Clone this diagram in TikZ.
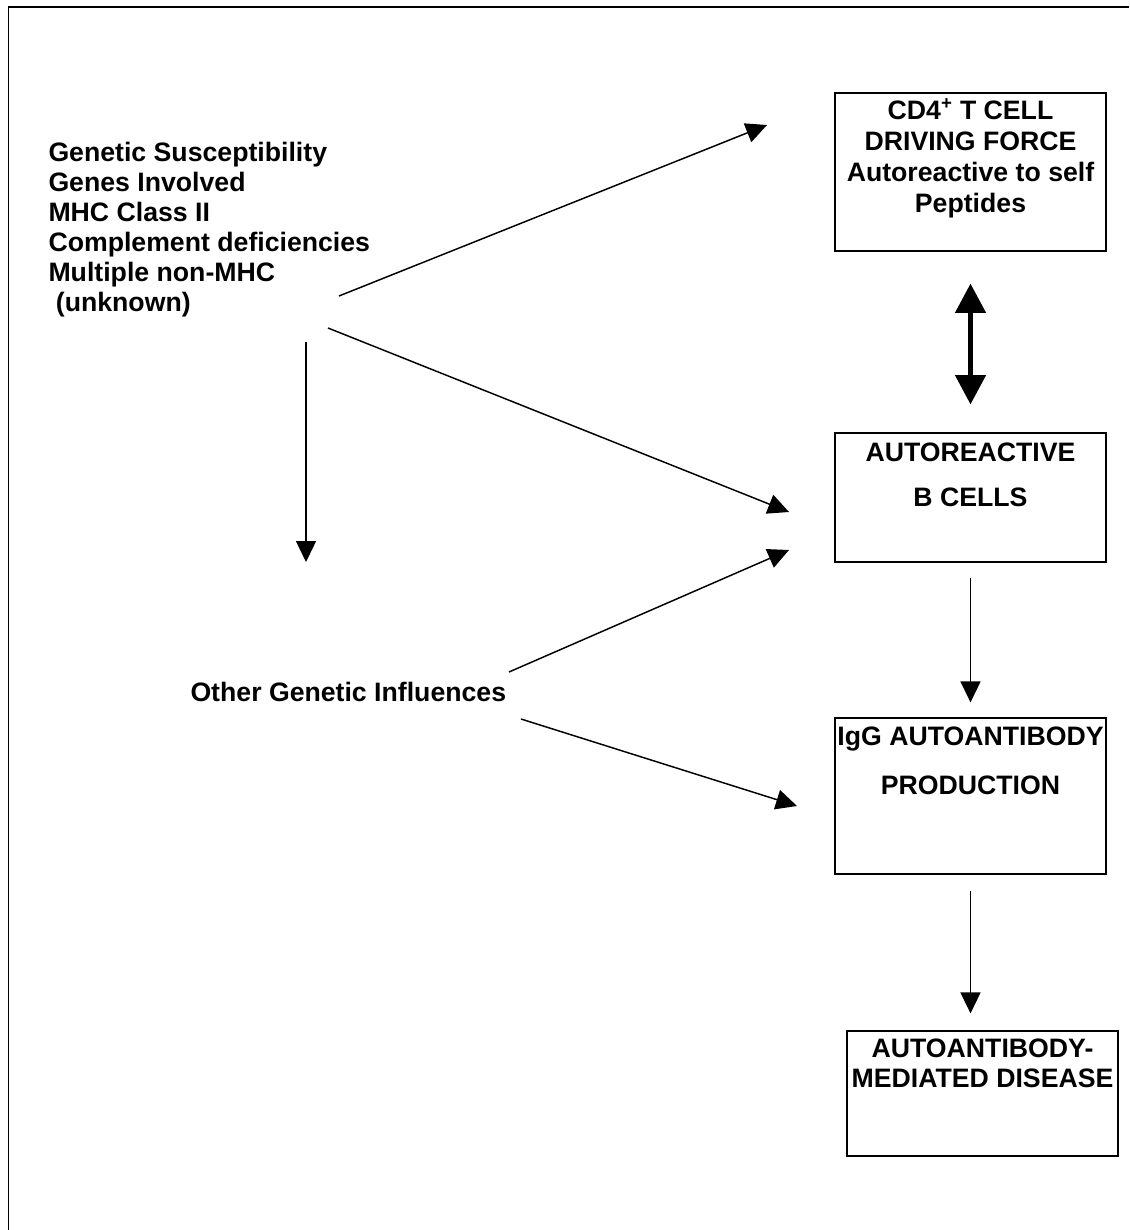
\documentclass[tikz,border=0pt]{standalone}
\usepackage{fontspec}
\setmainfont{Liberation Sans}
\usetikzlibrary{arrows.meta,positioning}
\tikzset{every picture/.style={line width=0.75pt}}

\begin{document}
\begin{tikzpicture}[x=0.75pt,y=0.75pt,yscale=-1,xscale=1,
  cellbox/.style={draw, line width=0.9pt, minimum width=203.25pt, inner sep=0pt},
  boxtext/.style={font=\fontsize{20}{#1}\selectfont\bfseries, align=center, inner sep=0pt, anchor=base},
  lefttext/.style={font=\fontsize{20}{22.5}\selectfont\bfseries, align=left, inner sep=0pt, anchor=base west},
  thinarrow/.style={-{Triangle[length=15.75pt,width=15pt]}, line width=1.1pt},
  thickarrow/.style={{Triangle[length=22pt,width=22.5pt]}-{Triangle[length=22pt,width=22.5pt]}, line width=3.5pt}
]
\useasboundingbox (0,0) rectangle (1129,1230);

%Frame
\draw [line width=1pt] (8.5,1230) -- (8.5,7) -- (1129,7) ;

%Boxes
\node [cellbox, minimum height=118.5pt] (cd) at (970.5,172) {};
\node [cellbox, minimum height=96.75pt] (bc) at (970.5,497.5) {};
\node [cellbox, minimum height=117pt] (igg) at (970.5,796) {};
\node [cellbox, minimum height=93.75pt] (dis) at (982.5,1093.5) {};

% Text Node (base = last line)
\node [boxtext=23.25] (cdtxt) at (970.5,212.5) {CD4\textsuperscript{+} T CELL\\DRIVING FORCE\\Autoreactive to self\\Peptides};
% Text Node
\node [boxtext=33.75] (bctxt) at (970.5,506.5) {AUTOREACTIVE\\B CELLS};
% Text Node
\node [boxtext=36.75] (iggtxt) at (970.5,794.5) {IgG AUTOANTIBODY\\PRODUCTION};
% Text Node
\node [boxtext=22.5] (distxt) at (982.5,1087.5) {AUTOANTIBODY-\\MEDIATED DISEASE};
% Text Node
\node [lefttext] (gs) at (48,311.5) {Genetic Susceptibility\\Genes Involved\\MHC Class II\\Complement deficiencies\\Multiple non-MHC\\\ (unknown)};
% Text Node
\node [lefttext] (og) at (190,701.5) {Other Genetic Influences};

%Arrow ends
\coordinate (gs-up) at (339,296);
\coordinate (cd-in) at (767,125);
\coordinate (gs-mid) at (328,328);
\coordinate (bc-in1) at (789,512);
\coordinate (gs-down) at (306,342);
\coordinate (gs-end) at (306,562);
\coordinate (og-up) at (509,672);
\coordinate (bc-in2) at (789,550);
\coordinate (og-down) at (521,719);
\coordinate (igg-in) at (797,806);

%Straight Lines
\draw [thinarrow] (gs-up) -- (cd-in) ;
\draw [thinarrow] (gs-mid) -- (bc-in1) ;
\draw [thinarrow] (gs-down) -- (gs-end) ;
\draw [thinarrow] (og-up) -- (bc-in2) ;
\draw [thinarrow] (og-down) -- (igg-in) ;

%Box to box
\draw [thickarrow, shorten <=24pt, shorten >=21pt] (cd) -- (bc) ;
\draw [thinarrow, shorten <=11.25pt, shorten >=11.25pt] (bc) -- (igg) ;
\draw [thinarrow, shorten <=12pt, shorten >=12.75pt] (igg.south) -- (igg.south |- dis.north) ;

\end{tikzpicture}
\end{document}
